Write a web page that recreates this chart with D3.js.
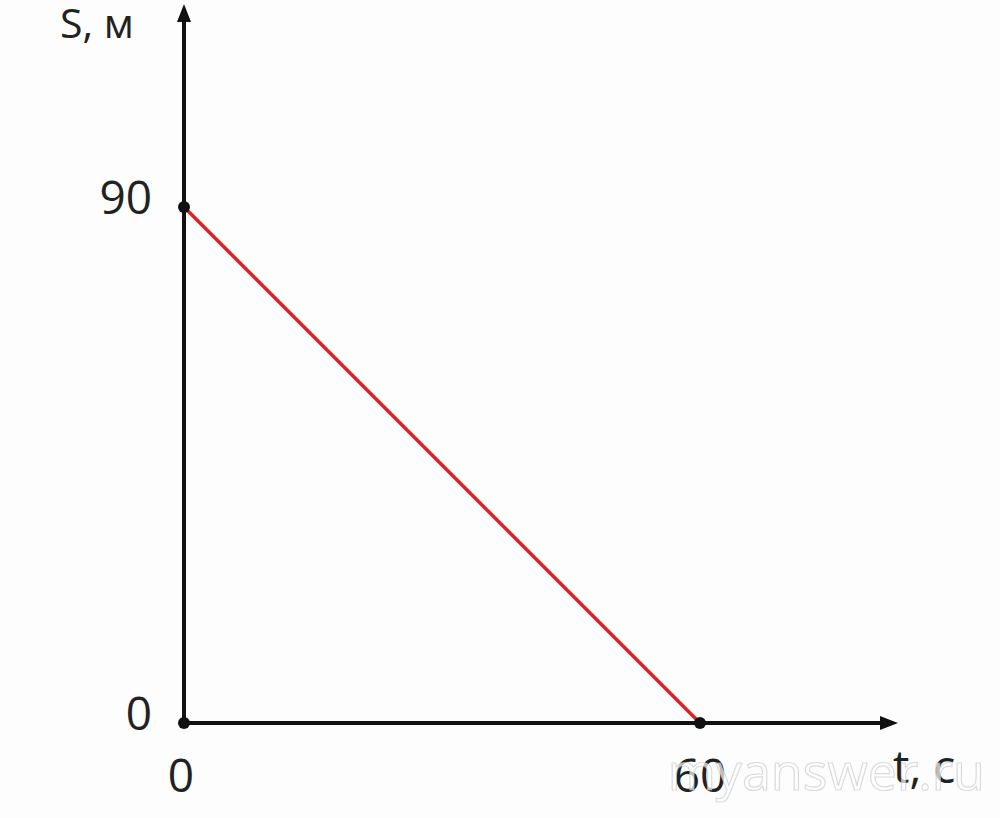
<!DOCTYPE html>
<html><head><meta charset="utf-8">
<script src="https://cdn.jsdelivr.net/npm/d3@7"></script>
<style>html,body{margin:0;padding:0;background:#fdfdfd;}svg{display:block;}</style>
</head><body>
<script>
const tValues = [0, 60];
const sValues = [90, 0];
const xTicks = [0, 60];
const yTicks = [0, 90];
const xLabel = "t, с";
const yLabel = "S, м";
const watermark = "myanswer.ru";

const W = 1000, H = 818;
const svg = d3.select("body").append("svg").attr("width", W).attr("height", H);
svg.append("rect").attr("width", W).attr("height", H).attr("fill", "#fdfdfd");

const x = d3.scaleLinear().domain([0, 60]).range([184, 700]);
const y = d3.scaleLinear().domain([0, 90]).range([723, 207]);
const font = "'Open Sans', 'Liberation Sans', sans-serif";

// axes
svg.append("line").attr("x1", x(0)).attr("x2", 884).attr("y1", y(0)).attr("y2", y(0))
  .attr("stroke", "#111").attr("stroke-width", 4);
svg.append("path").attr("d", `M898,${y(0)} L880,${y(0)-7} L880,${y(0)+7} Z`).attr("fill", "#111");
svg.append("line").attr("x1", x(0)).attr("x2", x(0)).attr("y1", y(0)).attr("y2", 18)
  .attr("stroke", "#111").attr("stroke-width", 4);
svg.append("path").attr("d", `M${x(0)},4 L${x(0)-7},22 L${x(0)+7},22 Z`).attr("fill", "#111");

// line
const pts = tValues.map((t, i) => [t, sValues[i]]);
svg.append("path").datum(pts)
  .attr("d", d3.line().x(d => x(d[0])).y(d => y(d[1])))
  .attr("stroke", "#d9252a").attr("stroke-width", 3.5).attr("fill", "none");

// points
const dots = [[0, 90], [0, 0], [60, 0]];
svg.selectAll("circle.pt").data(dots).enter().append("circle")
  .attr("cx", d => x(d[0])).attr("cy", d => y(d[1])).attr("r", 6).attr("fill", "#111");

// tick labels
svg.selectAll("text.yt").data(yTicks).enter().append("text")
  .attr("x", 152).attr("y", d => y(d) - 9).attr("dy", "0.35em")
  .attr("text-anchor", "end").attr("font-family", font).attr("font-size", 46)
  .attr("fill", "#222").text(d => d);
svg.selectAll("text.xt").data(xTicks).enter().append("text")
  .attr("x", d => x(d) - (d === 0 ? 3 : 0)).attr("y", 792)
  .attr("text-anchor", "middle").attr("font-family", font).attr("font-size", 46)
  .attr("fill", "#222").text(d => d);

// axis labels
svg.append("text").attr("x", 60).attr("y", 38).attr("font-family", font).attr("font-size", 41)
  .attr("fill", "#222").text(yLabel);
svg.append("text").attr("x", 893).attr("y", 783).attr("font-family", font).attr("font-size", 46)
  .attr("fill", "#222").text(xLabel);

// watermark
svg.append("text").attr("x", 985).attr("y", 790).attr("text-anchor", "end")
  .attr("font-family", font).attr("font-size", 52)
  .attr("fill", "rgba(255,255,255,0.7)").attr("stroke", "rgba(190,190,190,0.55)").attr("stroke-width", 1.2)
  .text(watermark);
</script>
</body></html>
